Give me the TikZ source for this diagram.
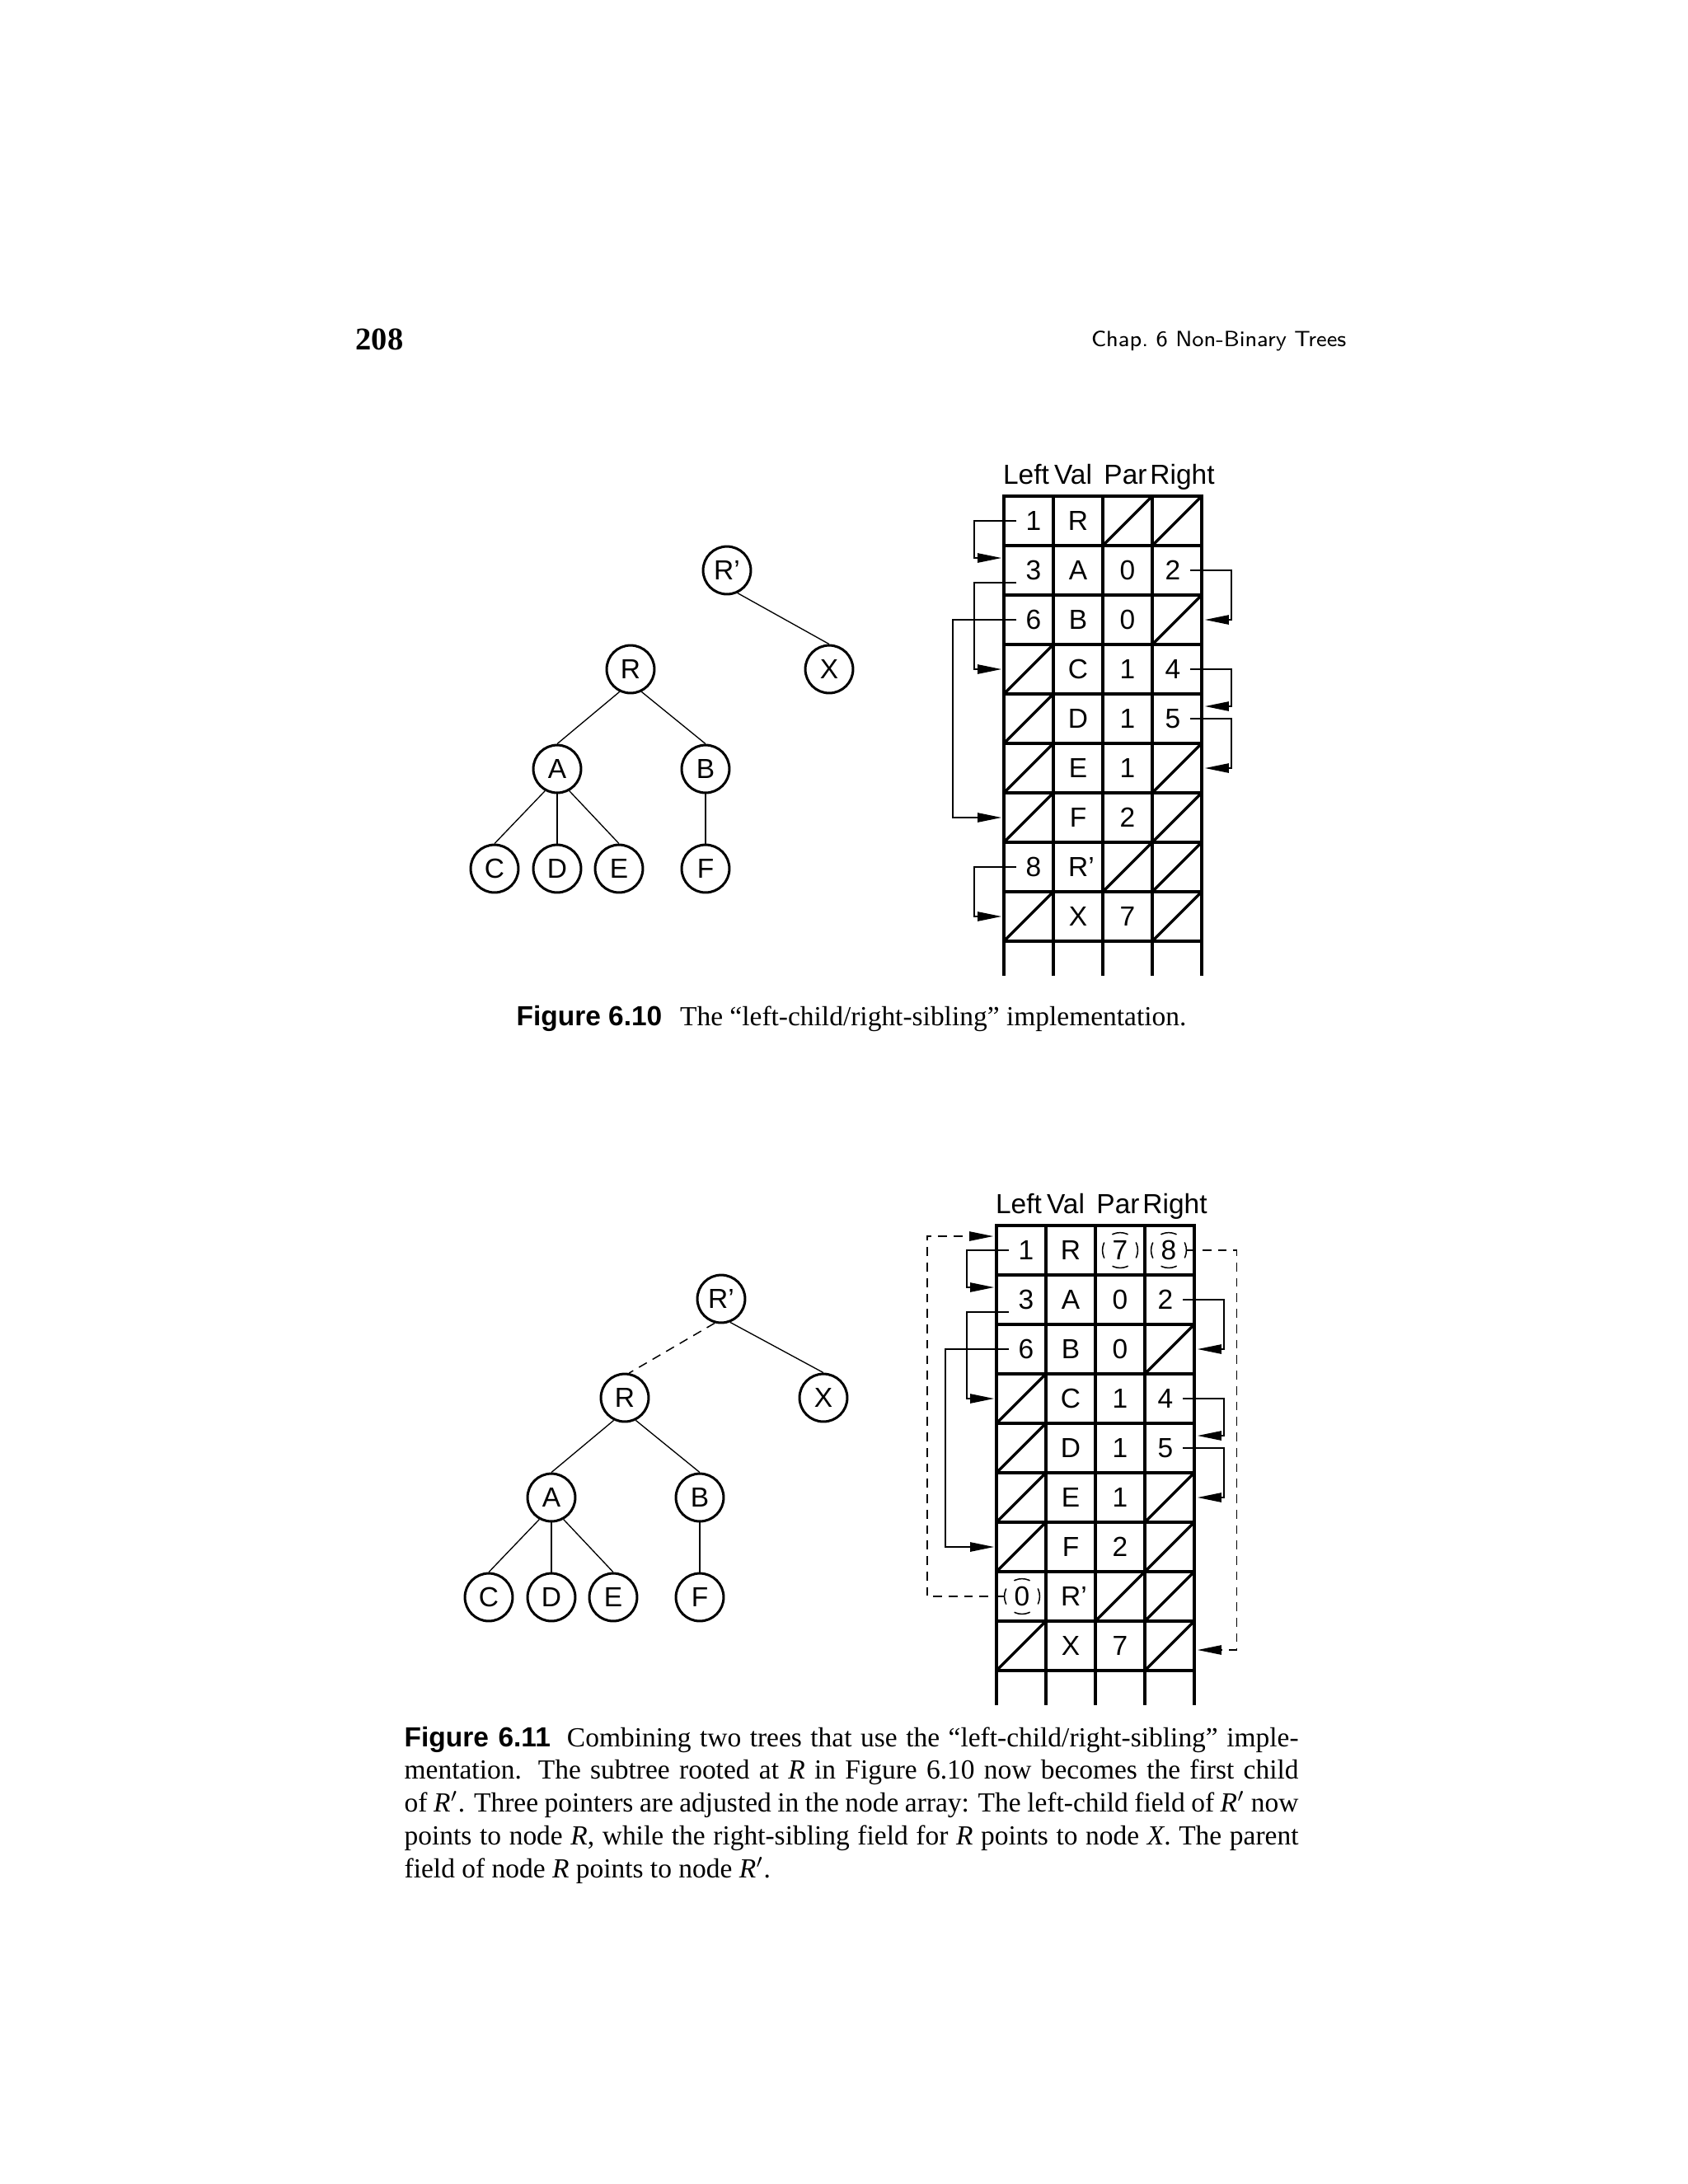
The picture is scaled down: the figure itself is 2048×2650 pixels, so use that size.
\documentclass[tikz,border=0pt]{standalone}
\usepackage{fontspec}
\setmainfont{Liberation Serif}
\newfontfamily\helv{Liberation Sans}
\usetikzlibrary{calc,arrows.meta}
\tikzset{
  gridline/.style={line width=1pt},
  cellbox/.style={rectangle, minimum width=17.93pt, minimum height=17.93pt, inner sep=0pt, outer sep=0pt},
  lastbox/.style={rectangle, minimum width=17.93pt, minimum height=12.55pt, inner sep=0pt, outer sep=0pt},
  celltxt/.style={font=\helv\fontsize{10}{12}\selectfont, inner sep=0pt},
  headtxt/.style={font=\helv\fontsize{10}{12}\selectfont, inner sep=0pt, anchor=base},
  tnode/.style={circle, draw, line width=0.9pt, minimum size=17.3pt, inner sep=0pt, font=\helv\fontsize{10}{12}\selectfont},
  edge/.style={line width=0.4pt},
  dedge/.style={line width=0.45pt, dash pattern=on 3.3pt off 2.4pt},
  ptr/.style={line width=0.4pt, -{Triangle[length=8.6pt,width=3.4pt]}},
  dptr/.style={ptr, dash pattern=on 3.2pt off 2.4pt},
  dcirc/.style={circle, draw, line width=0.45pt, minimum size=12.8pt, inner sep=0pt,
     dash pattern=on 5.9pt off 4.15pt, dash phase=2.95pt, font=\helv\fontsize{10}{12}\selectfont},
}
\newcommand\drawgrid[3]{%
  \foreach \r in {0,...,8} {\foreach \c in {1,...,4} {
    \node[cellbox, draw, gridline] (#1-\r-\c) at ({#2+60*\c-30},{#3+60*\r+30}) {};
  }}
  \foreach \c in {1,...,4} {
    \node[lastbox] (#1-9-\c) at ({#2+60*\c-30},{#3+540+21}) {};
    \draw[gridline] (#1-9-\c.north west) -- (#1-9-\c.south west);
  }
  \draw[gridline] (#1-9-4.north east) -- (#1-9-4.south east);
  \node[headtxt] (#1-hL) at ($(#1-0-1.north)+(-3,-15)$) {Left};
  \node[headtxt] (#1-hV) at ($(#1-0-2.north)+(-6,-15)$) {Val};
  \node[headtxt] (#1-hP) at ($(#1-0-3.north)+(-2.5,-15)$) {Par};
  \node[headtxt] (#1-hR) at ($(#1-0-4.north)+(6.5,-15)$) {Right};
}
\begin{document}
\begin{tikzpicture}[x=0.29883pt,y=-0.29883pt]
\useasboundingbox (0,0) rectangle (2048,2650);
\fill[white] (0,0) rectangle (2048,2650);

% page header
\node[anchor=base west, inner sep=0pt] (pageno) at (431,424) {\fontsize{11.5}{12}\selectfont\bfseries 208};
\node[anchor=base east, inner sep=0pt] (runhead) at (1634,420) {\sffamily\fontsize{8}{10}\selectfont Chap.\ 6 Non-Binary Trees};

% ================= Figure 6.10 =================
\drawgrid{a}{1218}{602}
\foreach \r/\c in {0/3,0/4,2/4,3/1,4/1,5/1,5/4,6/1,6/4,7/3,7/4,8/1,8/4}
  {\draw[gridline] (a-\r-\c.south west) -- (a-\r-\c.north east);}
\foreach \r/\c/\t/\dx in {0/1/1/6,0/2/R/0,1/1/3/6,1/2/A/0,1/3/0/0,1/4/2/-5,2/1/6/6,2/2/B/0,2/3/0/0,
  3/2/C/0,3/3/1/0,3/4/4/-5,4/2/D/0,4/3/1/0,4/4/5/-5,5/2/E/0,5/3/1/0,6/2/F/0,6/3/2/0,
  7/1/8/6,7/2/R’/4,8/2/X/0,8/3/7/0}
  {\node[celltxt] (a-t-\r-\c) at ($(a-\r-\c)+(\dx,0)$) {\t};}
% pointers
\draw[ptr] ($(a-0-1.west)+(15,0)$) -- ++(-51,0) |- ($(a-1-1.west)+(-3,-15)$);
\draw[ptr] ($(a-1-1.west)+(15,15)$) -- ++(-51,0) |- ($(a-3-1.west)+(-3,0)$);
\draw[ptr] ($(a-2-1.west)+(15,0)$) -- ++(-77,0) |- ($(a-6-1.west)+(-3,0)$);
\draw[ptr] ($(a-7-1.west)+(15,0)$) -- ++(-51,0) |- ($(a-8-1.west)+(-3,0)$);
\draw[ptr] ($(a-1-4.east)+(-14,0)$) -- ++(50,0) |- ($(a-2-4.east)+(4,0)$);
\draw[ptr] ($(a-3-4.east)+(-14,0)$) -- ++(50,0) |- ($(a-4-4.east)+(4,-15)$);
\draw[ptr] ($(a-4-4.east)+(-14,0)$) -- ++(50,0) |- ($(a-5-4.east)+(4,0)$);

% tree 1
\node[tnode] (t1Rp) at (882,692) {R’};
\node[tnode] (t1X) at (1006,812) {X};
\node[tnode] (t1R) at (765,812) {R};
\node[tnode] (t1A) at (676,933) {A};
\node[tnode] (t1B) at (856,933) {B};
\node[tnode] (t1C) at (600,1054) {C};
\node[tnode] (t1D) at (676,1054) {D};
\node[tnode] (t1E) at (751,1054) {E};
\node[tnode] (t1F) at (856,1054) {F};
\draw[edge] (t1Rp.-65) -- (t1X.north);
\draw[edge] (t1R.-116) -- (t1A.north);
\draw[edge] (t1R.-64) -- (t1B.north);
\draw[edge] (t1A.-119) -- (t1C.north);
\draw[edge] (t1A.south) -- (t1D.north);
\draw[edge] (t1A.-61) -- (t1E.north);
\draw[edge] (t1B.south) -- (t1F.north);

\node[anchor=base, inner sep=0pt] (cap1) at (1033,1244)
  {\fontsize{10}{12}\selectfont{\helv\bfseries Figure 6.10}\hspace{6.5pt}The “left-child/right-sibling” implementation.};

% ================= Figure 6.11 =================
\drawgrid{b}{1209}{1487}
\foreach \r/\c in {2/4,3/1,4/1,5/1,5/4,6/1,6/4,7/3,7/4,8/1,8/4}
  {\draw[gridline] (b-\r-\c.south west) -- (b-\r-\c.north east);}
\foreach \r/\c/\t/\dx in {0/1/1/6,0/2/R/0,1/1/3/6,1/2/A/0,1/3/0/0,1/4/2/-5,2/1/6/6,2/2/B/0,2/3/0/0,
  3/2/C/0,3/3/1/0,3/4/4/-5,4/2/D/0,4/3/1/0,4/4/5/-5,5/2/E/0,5/3/1/0,6/2/F/0,6/3/2/0,
  7/2/R’/4,8/2/X/0,8/3/7/0}
  {\node[celltxt] (b-t-\r-\c) at ($(b-\r-\c)+(\dx,0)$) {\t};}
\node[dcirc] (b-c7) at (b-0-3) {7};
\node[dcirc] (b-c8) at ($(b-0-4)+(-1,0)$) {8};
\node[dcirc] (b-c0) at ($(b-7-1)+(1,0)$) {0};
% pointers
\draw[ptr] ($(b-0-1.west)+(15,0)$) -- ++(-51,0) |- ($(b-1-1.west)+(-3,-15)$);
\draw[ptr] ($(b-1-1.west)+(15,15)$) -- ++(-51,0) |- ($(b-3-1.west)+(-3,0)$);
\draw[ptr] ($(b-2-1.west)+(15,0)$) -- ++(-77,0) |- ($(b-6-1.west)+(-3,0)$);
\draw[ptr] ($(b-1-4.east)+(-14,0)$) -- ++(50,0) |- ($(b-2-4.east)+(4,0)$);
\draw[ptr] ($(b-3-4.east)+(-14,0)$) -- ++(50,0) |- ($(b-4-4.east)+(4,-15)$);
\draw[ptr] ($(b-4-4.east)+(-14,0)$) -- ++(50,0) |- ($(b-5-4.east)+(4,0)$);
\draw[dptr] (b-c0.west) -- ++(-93,0) |- ($(b-0-1.north west)+(-4,13)$);
\draw[dptr] (b-c8.east) -- ++(60,0) |- ($(b-8-4.east)+(4,5)$);

% tree 2
\node[tnode] (t2Rp) at (875,1576) {R’};
\node[tnode] (t2X) at (999,1696) {X};
\node[tnode] (t2R) at (758,1696) {R};
\node[tnode] (t2A) at (669,1817) {A};
\node[tnode] (t2B) at (849,1817) {B};
\node[tnode] (t2C) at (593,1938) {C};
\node[tnode] (t2D) at (669,1938) {D};
\node[tnode] (t2E) at (744,1938) {E};
\node[tnode] (t2F) at (849,1938) {F};
\draw[dedge] (t2Rp.-105) -- (t2R.80);
\draw[edge] (t2Rp.-69) -- (t2X.north);
\draw[edge] (t2R.-116) -- (t2A.north);
\draw[edge] (t2R.-64) -- (t2B.north);
\draw[edge] (t2A.-119) -- (t2C.north);
\draw[edge] (t2A.south) -- (t2D.north);
\draw[edge] (t2A.-61) -- (t2E.north);
\draw[edge] (t2B.south) -- (t2F.north);

\node[anchor=base west, inner sep=0pt] (cap2) at (490,2119)
  {\parbox[t]{324.2pt}{\fontsize{10}{11.9}\selectfont
  {\helv\bfseries Figure 6.11}\hspace{6pt}Combining two trees that use the “left-child/right-sibling” imple-\linebreak
  mentation.  The subtree rooted at \textit{R} in Figure 6.10 now becomes the first child\linebreak
  of \textit{R}$'$. Three pointers are adjusted in the node array: The left-child field of \textit{R}$'$ now\linebreak
  points to node \textit{R}, while the right-sibling field for \textit{R} points to node \textit{X}. The parent\linebreak
  field of node \textit{R} points to node \textit{R}$'$.}};
\end{tikzpicture}
\end{document}
